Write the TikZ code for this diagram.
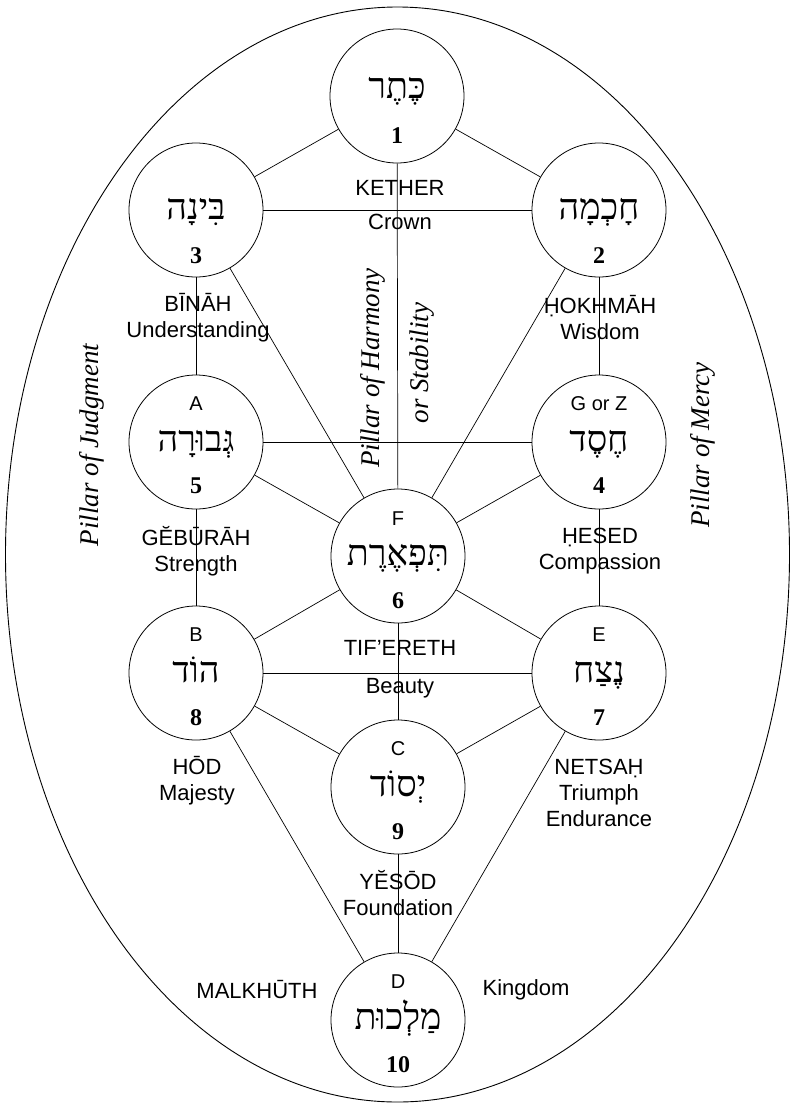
\documentclass[tikz,border=0pt]{standalone}
\usepackage{fontspec}
\setmainfont{Liberation Serif}
\setsansfont{Liberation Sans}
\newfontfamily\hebfont[Script=Hebrew]{Liberation Serif}
\TeXXeTstate=1
\usetikzlibrary{calc}
\newcommand{\heb}[1]{{\hebfont\beginR #1\endR}}

\begin{document}
\begin{tikzpicture}[x=1pt, y=-1pt,
        sefira/.style={circle, draw=black, line width=0.8pt, fill=white, minimum size=134pt, inner sep=0pt},
        linea/.style={line width=0.7pt},
        hebreo/.style={font=\fontsize{36}{36}\selectfont, anchor=base, inner sep=0pt},
        numero/.style={font=\bfseries\fontsize{24}{24}\selectfont, anchor=base, inner sep=0pt},
        letra/.style={font=\sffamily\fontsize{20}{20}\selectfont, anchor=base, inner sep=0pt},
        nombre/.style={font=\sffamily\fontsize{22}{26}\selectfont, align=center, inner sep=0pt},
        pilar/.style={font=\itshape\fontsize{27}{27}\selectfont, rotate=90, inner sep=0pt}
    ]
        \useasboundingbox (0,0) rectangle (794,1104);

        % Elipse exterior
        \draw[line width=0.9pt] (397.5,554.5) ellipse [x radius=392, y radius=547.5];

        % Sefirot
        \node[sefira] (k1) at (397,96) {};
        \node[sefira] (k2) at (599,210) {};
        \node[sefira] (k3) at (196,210) {};
        \node[sefira] (k4) at (599,442) {};
        \node[sefira] (k5) at (196,442) {};
        \node[sefira] (k6) at (398,556) {};
        \node[sefira] (k7) at (599,673) {};
        \node[sefira] (k8) at (196,673) {};
        \node[sefira] (k9) at (398,787) {};
        \node[sefira] (k10) at (398,1020) {};

        % Senderos
        \draw[linea] (k1) -- (k2);
        \draw[linea] (k1) -- (k3);
        \draw[linea] (k1) -- (k6);
        \draw[linea] (k2) -- (k3);
        \draw[linea] (k2) -- (k4);
        \draw[linea] (k2) -- (k6);
        \draw[linea] (k3) -- (k5);
        \draw[linea] (k3) -- (k6);
        \draw[linea] (k4) -- (k5);
        \draw[linea] (k4) -- (k6);
        \draw[linea] (k4) -- (k7);
        \draw[linea] (k5) -- (k6);
        \draw[linea] (k5) -- (k8);
        \draw[linea] (k6) -- (k7);
        \draw[linea] (k6) -- (k8);
        \draw[linea] (k6) -- (k9);
        \draw[linea] (k7) -- (k8);
        \draw[linea] (k7) -- (k9);
        \draw[linea] (k7) -- (k10);
        \draw[linea] (k8) -- (k9);
        \draw[linea] (k8) -- (k10);
        \draw[linea] (k9) -- (k10);

        % Nombres hebreos
        \node[hebreo] (h1) at ($(k1)+(0,2)$) {\heb{כֶּתֶר}};
        \node[hebreo] (h2) at ($(k2)+(0,9)$) {\heb{חָכְמָה}};
        \node[hebreo] (h3) at ($(k3)+(0,9)$) {\heb{בִּינָה}};
        \node[hebreo] (h4) at ($(k4)+(0,9)$) {\heb{חֶסֶד}};
        \node[hebreo] (h5) at ($(k5)+(0,9)$) {\heb{גְּבוּרָה}};
        \node[hebreo] (h6) at ($(k6)+(0,9)$) {\heb{תִּפְאֶרֶת}};
        \node[hebreo] (h7) at ($(k7)+(0,9)$) {\heb{נֶצַח}};
        \node[hebreo] (h8) at ($(k8)+(0,9)$) {\heb{הוֹד}};
        \node[hebreo] (h9) at ($(k9)+(0,9)$) {\heb{יְסוֹד}};
        \node[hebreo] (h10) at ($(k10)+(0,9)$) {\heb{מַלְכוּת}};

        % Numeros
        \node[numero] (n1) at ($(k1)+(0,47)$) {1};
        \node[numero] (n2) at ($(k2)+(0,53)$) {2};
        \node[numero] (n3) at ($(k3)+(0,53)$) {3};
        \node[numero] (n4) at ($(k4)+(0,51)$) {4};
        \node[numero] (n5) at ($(k5)+(0,51)$) {5};
        \node[numero] (n6) at ($(k6)+(0,52)$) {6};
        \node[numero] (n7) at ($(k7)+(0,52)$) {7};
        \node[numero] (n8) at ($(k8)+(0,52)$) {8};
        \node[numero] (n9) at ($(k9)+(0,52)$) {9};
        \node[numero] (n10) at ($(k10)+(0,52)$) {10};

        % Letras
        \node[letra] (l4) at ($(k4)+(0,-32)$) {G or Z};
        \node[letra] (l5) at ($(k5)+(0,-32)$) {A};
        \node[letra] (l6) at ($(k6)+(0,-31)$) {F};
        \node[letra] (l7) at ($(k7)+(0,-32)$) {E};
        \node[letra] (l8) at ($(k8)+(0,-32)$) {B};
        \node[letra] (l9) at ($(k9)+(0,-32)$) {C};
        \node[letra] (l10) at ($(k10)+(0,-32)$) {D};

        % Etiquetas
        \node[nombre] (t1a) at (400,188) {KETHER};
        \node[nombre] (t1b) at (400,222) {Crown};
        \node[nombre] (t2) at (600,318) {ḤOKHMĀH\\Wisdom};
        \node[nombre] (t3) at (198,318) {BĪNĀH\\Understanding};
        \node[nombre] (t4) at (600,551) {ḤESED\\Compassion};
        \node[nombre] (t5) at (196,551) {GĔBŪRĀH\\Strength};
        \node[nombre] (t6a) at (400,648) {TIF’ERETH};
        \node[nombre] (t6b) at (400,688) {Beauty};
        \node[nombre] (t7) at (599,793) {NETSAḤ\\Triumph\\Endurance};
        \node[nombre] (t8) at (197,781) {HŌD\\Majesty};
        \node[nombre] (t9) at (398,893) {YĔSŌD\\Foundation};
        \node[nombre] (t10a) at (257,990) {MALKHŪTH};
        \node[nombre] (t10b) at (526,990) {Kingdom};

        % Pilares
        \node[pilar] (p1) at (92,445) {Pillar of Judgment};
        \node[pilar] (p2) at (703,445) {Pillar of Mercy};
        \node[pilar] (p3) at (373,368) {Pillar of Harmony};
        \node[pilar] (p4) at (422,363) {or Stability};
    \end{tikzpicture}
\end{document}
